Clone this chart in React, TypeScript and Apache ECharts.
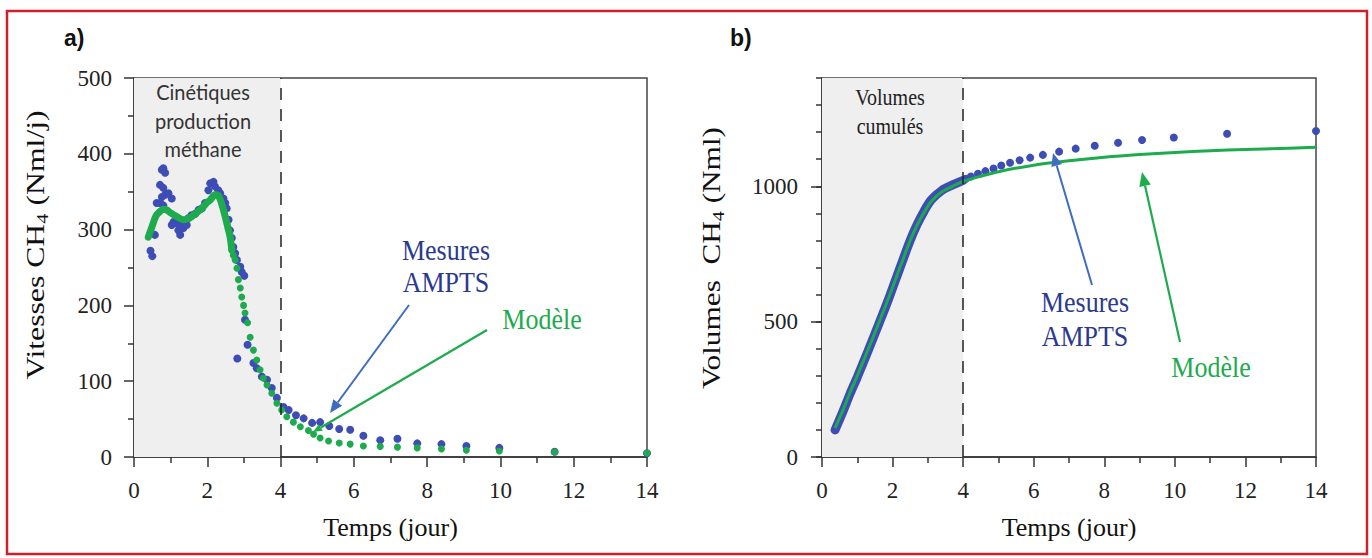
import React, { useEffect, useRef } from "react";
import * as echarts from "echarts";

// ---------- Panel a) : methane production rate (Nml/j) ----------
const rateMesT = [0.45, 0.5, 0.57, 0.62, 0.71, 0.71, 0.76, 0.76, 0.8, 0.8, 0.8, 0.85, 0.85, 0.94, 1.03, 1.03, 1.08, 1.17, 1.21, 1.26, 1.26, 1.35, 1.44, 1.48, 1.57, 1.67, 1.76, 1.85, 1.94, 2.03, 2.08, 2.17, 2.21, 2.3, 2.35, 2.44, 2.49, 2.53, 2.58, 2.62, 2.67, 2.71, 2.76, 2.81, 2.82, 2.9, 2.94, 3.01, 3.03, 3.1, 3.26, 3.35, 3.49, 3.63, 3.76, 3.9, 4.08, 4.22, 4.42, 4.63, 4.86, 5.08, 5.33, 5.6, 5.9, 6.26, 6.72, 7.19, 7.73, 8.39, 9.07, 9.97, 11.48, 14.0];
const rateMesV = [272, 265, 293, 335, 335, 359, 379, 343, 381, 355, 332, 375, 346, 348, 341, 306, 310, 308, 299, 306, 293, 302, 306, 315, 319, 321, 326, 328, 335, 352, 361, 363, 357, 352, 348, 341, 335, 328, 313, 299, 289, 277, 269, 260, 130, 251, 244, 239, 181, 148, 124, 117, 106, 102, 91, 78, 66, 62, 55, 51, 45, 46, 41, 37, 36, 28, 22, 24, 18, 17, 14.5, 12, 7, 5];

const rateModLineT = [0.39, 0.5, 0.6, 0.71, 0.8, 0.89, 1.0, 1.17, 1.35, 1.45, 1.57, 1.7, 1.85, 2.0, 2.08, 2.21, 2.3, 2.4, 2.49, 2.56, 2.62, 2.67];
const rateModLineV = [290, 305, 318, 324, 327, 326, 322, 317, 313, 314, 317, 322, 328, 336, 339, 346, 345, 333, 317, 303, 291, 273];

const rateModDotT = [2.67, 2.71, 2.76, 2.81, 2.85, 2.9, 2.94, 2.99, 3.03, 3.1, 3.17, 3.26, 3.35, 3.44, 3.53, 3.63, 3.76, 3.9, 4.03, 4.17, 4.35, 4.54, 4.76, 4.9, 5.08, 5.31, 5.6, 5.9, 6.26, 6.72, 7.19, 7.73, 8.39, 9.07, 9.97, 11.48, 14.0];
const rateModDotV = [273, 266, 260, 249, 234, 223, 211, 200, 190, 177, 158, 141, 128, 115, 104, 95, 84, 71, 62, 53, 46, 40, 35, 30, 25, 21, 18.5, 17, 14.5, 14, 13, 12, 10.5, 9, 8, 6.6, 5.3];

// ---------- Panel b) : cumulative methane volume (Nml) ----------
const cumMesDenseT = [0.37, 0.6, 0.8, 1.0, 1.3, 1.6, 1.9, 2.2, 2.5, 2.7, 2.9, 3.1, 3.4, 3.7, 4.0];
const cumMesDenseV = [100, 170, 235, 295, 390, 488, 588, 695, 800, 860, 910, 950, 985, 1005, 1022];
const cumMesDotT = [4.08, 4.22, 4.42, 4.63, 4.86, 5.08, 5.33, 5.6, 5.9, 6.26, 6.72, 7.19, 7.73, 8.39, 9.07, 9.97, 11.48, 14.0];
const cumMesDotV = [1028, 1036, 1046, 1056, 1066, 1077, 1087, 1096, 1106, 1116, 1128, 1139, 1150, 1161, 1171, 1180, 1194, 1204];
const cumModT = [0.37, 0.6, 0.8, 1.0, 1.3, 1.6, 1.9, 2.2, 2.5, 2.7, 2.9, 3.1, 3.4, 3.7, 4.0, 4.5, 5.0, 6.0, 7.0, 8.0, 9.0, 10, 11, 12, 13, 14];
const cumModV = [107, 175, 240, 300, 395, 492, 592, 697, 800, 858, 905, 945, 980, 1000, 1018, 1037, 1054, 1078, 1094, 1107, 1117, 1125, 1131, 1136, 1140, 1144];

const cumMajorTicks = [0, 500, 1000];
const phaseEnd = 4;

const BLUE = "#3e4db5";
const GREEN = "#1eab4e";
const ARROW_BLUE = "#3d6cc0";
const NAVY = "#2b3a8f";
const SERIF = "'Liberation Serif', 'Times New Roman', serif";

const zip = (a: number[], b: number[]) => a.map((v, i) => [v, b[i]]);

function arrow(x1: number, y1: number, x2: number, y2: number, color: string, w: number, head: number) {
  const ang = Math.atan2(y2 - y1, x2 - x1);
  const bx = x2 - head * Math.cos(ang);
  const by = y2 - head * Math.sin(ang);
  const hw = head * 0.42;
  const px = -Math.sin(ang) * hw;
  const py = Math.cos(ang) * hw;
  return [
    { type: "line", z: 20, shape: { x1, y1, x2: bx, y2: by }, style: { stroke: color, lineWidth: w } },
    { type: "polygon", z: 20, shape: { points: [[x2, y2], [bx + px, by + py], [bx - px, by - py]] }, style: { fill: color } },
  ];
}

const axisLineStyle = { color: "#333", width: 1.5 };

function xAxisFor(grid: number) {
  return {
    gridIndex: grid,
    type: "value",
    position: "bottom",
    min: 0,
    max: 14,
    interval: 2,
    axisLine: { show: true, onZero: false, lineStyle: axisLineStyle },
    axisTick: { show: true, length: 10, lineStyle: axisLineStyle },
    minorTick: { show: true, splitNumber: 2, length: 6, lineStyle: axisLineStyle },
    splitLine: { show: false },
    minorSplitLine: { show: false },
    axisLabel: { fontFamily: SERIF, fontSize: 23, color: "#222", margin: 22 },
    name: "Temps (jour)",
    nameLocation: "middle",
    nameGap: 57,
    nameTextStyle: { fontFamily: SERIF, fontSize: 26, color: "#111" },
  };
}

const subRich = {
  a: { fontFamily: SERIF, fontSize: 25, lineHeight: 30, fill: "#111", color: "#111" },
  s: { fontFamily: SERIF, fontSize: 16, lineHeight: 16, fill: "#111", color: "#111", verticalAlign: "bottom" },
};

export default function App() {
  const ref = useRef<HTMLDivElement>(null);
  useEffect(() => {
    if (!ref.current) return;
    const chart = echarts.init(ref.current, undefined, { renderer: "svg" });
    const option: any = {
      animation: false,
      backgroundColor: "#ffffff",
      grid: [
        { left: 134, top: 78, width: 513, height: 379, show: true, borderColor: "#444", borderWidth: 1.5, backgroundColor: "transparent", containLabel: false, outerBoundsMode: "none" },
        { left: 822, top: 78, width: 494, height: 379, show: true, borderColor: "#444", borderWidth: 1.5, backgroundColor: "transparent", containLabel: false, outerBoundsMode: "none" },
      ],
      xAxis: [xAxisFor(0), xAxisFor(1)],
      yAxis: [
        {
          gridIndex: 0,
          type: "value",
          position: "left",
          min: 0,
          max: 500,
          interval: 100,
          axisLine: { show: true, lineStyle: axisLineStyle },
          axisTick: { show: true, length: 10, lineStyle: axisLineStyle },
          minorTick: { show: true, splitNumber: 2, length: 6, lineStyle: axisLineStyle },
          splitLine: { show: false },
          axisLabel: { fontFamily: SERIF, fontSize: 23, color: "#222", margin: 22 },
        },
        {
          gridIndex: 1,
          type: "value",
          position: "left",
          offset: 0,
          min: 0,
          max: 1400,
          interval: 100,
          axisLine: { show: true, lineStyle: axisLineStyle },
          axisTick: { show: true, length: 6, lineStyle: axisLineStyle },
          splitLine: { show: false },
          axisLabel: { show: false },
        },
        {
          gridIndex: 1,
          type: "value",
          position: "left",
          offset: 0,
          min: 0,
          max: 1400,
          interval: 500,
          axisLine: { show: false },
          axisTick: { show: true, length: 11, lineStyle: axisLineStyle, customValues: cumMajorTicks },
          splitLine: { show: false },
          axisLabel: {
            fontFamily: SERIF, fontSize: 23, color: "#222", margin: 24,
            customValues: cumMajorTicks,
            formatter: (v: number) => (v % 500 === 0 ? String(v) : ""),
          },
        },
      ],
      series: [
        {
          type: "line", xAxisIndex: 0, yAxisIndex: 0, data: [], z: 1, silent: true,
          markArea: { silent: true, itemStyle: { color: "#efefef" }, data: [[{ xAxis: 0 }, { xAxis: phaseEnd }]] },
          markLine: { silent: true, symbol: "none", label: { show: false }, lineStyle: { color: "#222", width: 1.5, type: [12, 9] }, data: [{ xAxis: phaseEnd }] },
        },
        {
          type: "scatter", xAxisIndex: 0, yAxisIndex: 0, z: 3, symbolSize: 8,
          itemStyle: { color: BLUE, opacity: 1 }, data: zip(rateMesT, rateMesV),
        },
        {
          type: "line", xAxisIndex: 0, yAxisIndex: 0, z: 4, showSymbol: false, smooth: 0.3,
          lineStyle: { color: GREEN, width: 7, cap: "round" }, data: zip(rateModLineT, rateModLineV),
        },
        {
          type: "scatter", xAxisIndex: 0, yAxisIndex: 0, z: 4, symbolSize: 7,
          itemStyle: { color: GREEN, opacity: 1 }, data: zip(rateModDotT, rateModDotV),
        },
        {
          type: "line", xAxisIndex: 1, yAxisIndex: 1, data: [], z: 1, silent: true,
          markArea: { silent: true, itemStyle: { color: "#efefef" }, data: [[{ xAxis: 0 }, { xAxis: phaseEnd }]] },
          markLine: { silent: true, symbol: "none", label: { show: false }, lineStyle: { color: "#222", width: 1.5, type: [12, 9] }, data: [{ xAxis: phaseEnd }] },
        },
        {
          type: "line", xAxisIndex: 1, yAxisIndex: 1, z: 3, showSymbol: false, smooth: 0.3,
          lineStyle: { color: BLUE, width: 9, cap: "round" }, data: zip(cumMesDenseT, cumMesDenseV),
        },
        {
          type: "scatter", xAxisIndex: 1, yAxisIndex: 1, z: 3, symbolSize: 8,
          itemStyle: { color: BLUE, opacity: 1 }, data: zip(cumMesDotT, cumMesDotV),
        },
        {
          type: "line", xAxisIndex: 1, yAxisIndex: 1, z: 4, showSymbol: false, smooth: 0.3,
          lineStyle: { color: GREEN, width: 3 }, data: zip(cumModT, cumModV),
        },
      ],
      graphic: [
        { type: "rect", z: 30, shape: { x: 7, y: 11, width: 1360, height: 543 }, style: { fill: "none", stroke: "#cf1f2d", lineWidth: 2.5 } },
        { type: "text", z: 20, x: 64, y: 38, style: { text: "a)", fontFamily: "'Liberation Sans', Arial, sans-serif", fontWeight: "bold", fontSize: 23, fill: "#111", verticalAlign: "middle" } },
        { type: "text", z: 20, x: 730, y: 38, style: { text: "b)", fontFamily: "'Liberation Sans', Arial, sans-serif", fontWeight: "bold", fontSize: 23, fill: "#111", verticalAlign: "middle" } },
        {
          type: "text", z: 20, x: 36, y: 245, rotation: Math.PI / 2, scaleX: 1.27,
          style: { text: "{a|Vitesses CH}{s|4}{a| (Nml/j)}", align: "center", verticalAlign: "middle", rich: subRich },
        },
        {
          type: "text", z: 20, x: 712, y: 258, rotation: Math.PI / 2, scaleX: 1.25,
          style: { text: "{a|Volumes  CH}{s|4}{a| (Nml)}", align: "center", verticalAlign: "middle", rich: subRich },
        },
        { type: "text", z: 20, x: 203, y: 120, scaleY: 1.1, style: { text: "Cinétiques\nproduction\nméthane", fontFamily: "Lato, 'Open Sans', sans-serif", fontSize: 20, lineHeight: 26, fill: "#333", align: "center", verticalAlign: "middle" } },
        { type: "text", z: 20, x: 890, y: 112, scaleY: 1.15, style: { text: "Volumes\ncumulés", fontFamily: SERIF, fontSize: 20, lineHeight: 26, fill: "#222", align: "center", verticalAlign: "middle" } },
        { type: "text", z: 20, x: 446, y: 266, scaleY: 1.15, style: { text: "Mesures\nAMPTS", fontFamily: SERIF, fontSize: 26, lineHeight: 28, fill: NAVY, align: "center", verticalAlign: "middle" } },
        { type: "text", z: 20, x: 542, y: 319, scaleY: 1.15, style: { text: "Modèle", fontFamily: SERIF, fontSize: 26, fill: GREEN, align: "center", verticalAlign: "middle" } },
        { type: "text", z: 20, x: 1085, y: 319, scaleY: 1.15, style: { text: "Mesures\nAMPTS", fontFamily: SERIF, fontSize: 26, lineHeight: 30, fill: NAVY, align: "center", verticalAlign: "middle" } },
        { type: "text", z: 20, x: 1211, y: 367, scaleY: 1.15, style: { text: "Modèle", fontFamily: SERIF, fontSize: 26, fill: GREEN, align: "center", verticalAlign: "middle" } },
        ...arrow(409, 305, 330, 413, ARROW_BLUE, 2, 13),
        ...arrow(487, 330, 313, 432, GREEN, 2.2, 9),
        ...arrow(1092, 285, 1053, 153, ARROW_BLUE, 2, 13),
        ...arrow(1180, 342, 1142, 172, GREEN, 2.2, 14),
      ],
    };
    chart.setOption(option);
    return () => chart.dispose();
  }, []);
  return <div ref={ref} style={{ position: "fixed", left: 0, top: 0, width: 1372, height: 558, background: "#fff" }} />;
}
